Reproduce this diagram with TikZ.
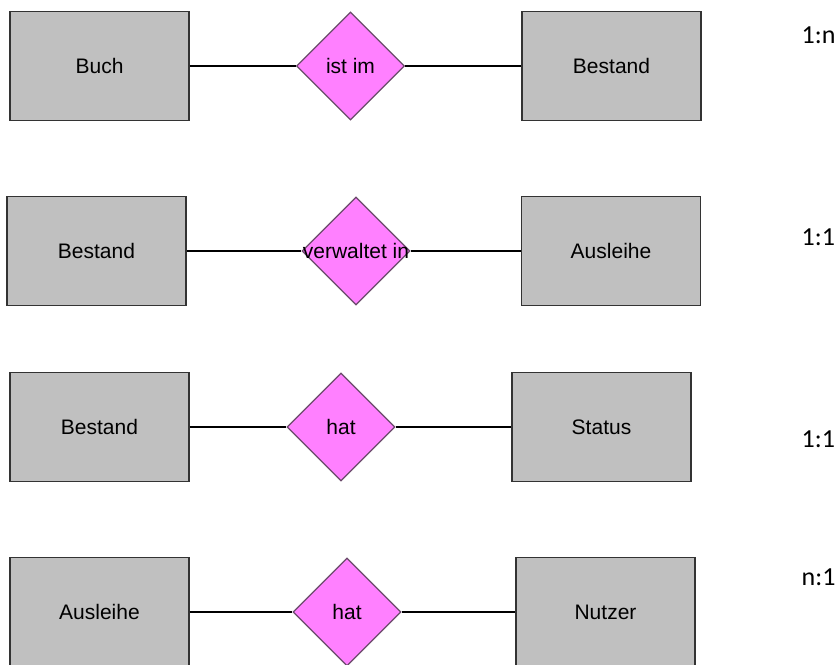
\documentclass[tikz,border=0pt]{standalone}
\usepackage{fontspec}
\setmainfont{Liberation Sans}
\newfontfamily\cardfont{Carlito}
\usetikzlibrary{shapes.geometric}

\definecolor{entgray}{HTML}{C0C0C0}
\definecolor{relpink}{HTML}{FF80FF}
\definecolor{relline}{HTML}{6A4A6A}

\begin{document}
\begin{tikzpicture}[x=1pt, y=-1pt,
    entity/.style = {draw=black!80, fill=entgray, line width=1.4pt, minimum width=179pt, minimum height=109pt, inner sep=0pt, text height=15pt, text depth=0pt, font=\fontsize{21}{23}\selectfont},
    relation/.style = {draw=relline, fill=relpink, diamond, aspect=1, line width=1.2pt, minimum width=108pt, minimum height=108pt, inner sep=0pt, text height=15pt, text depth=0pt, font=\fontsize{21}{23}\selectfont},
    card/.style = {anchor=west, inner sep=0pt, font=\cardfont\fontsize{26}{28}\selectfont},
    every path/.style = {line width=1.3pt}]
        \useasboundingbox (0,0) rectangle (840,664);
        % Buch - Bestand
        \node[entity] (buch) at (99.5,66) {Buch};
        \node[relation] (istim) at (350.5,66) {ist im};
        \node[entity] (bestand1) at (611.5,66) {Bestand};
        \node[card] (k1) at (801,35) {1:n};
        \draw (buch) -- (istim) -- (bestand1);
        % Bestand - Ausleihe
        \node[entity] (bestand2) at (96.5,251) {Bestand};
        \node[relation] (verwaltet) at (356,251) {\makebox[0pt]{verwaltet in}};
        \node[entity] (ausleihe1) at (611,251) {Ausleihe};
        \node[card] (k2) at (801,237) {1:1};
        \draw (bestand2) -- (verwaltet) -- (ausleihe1);
        % Bestand - Status
        \node[entity] (bestand3) at (99.5,427) {Bestand};
        \node[relation] (hat1) at (341,427) {hat};
        \node[entity] (status) at (601.5,427) {Status};
        \node[card] (k3) at (801,439) {1:1};
        \draw (bestand3) -- (hat1) -- (status);
        % Ausleihe - Nutzer
        \node[entity] (ausleihe2) at (99.5,612) {Ausleihe};
        \node[relation] (hat2) at (347,612) {hat};
        \node[entity] (nutzer) at (605.5,612) {Nutzer};
        \node[card] (k4) at (801,577) {n:1};
        \draw (ausleihe2) -- (hat2) -- (nutzer);
    \end{tikzpicture}
\end{document}
